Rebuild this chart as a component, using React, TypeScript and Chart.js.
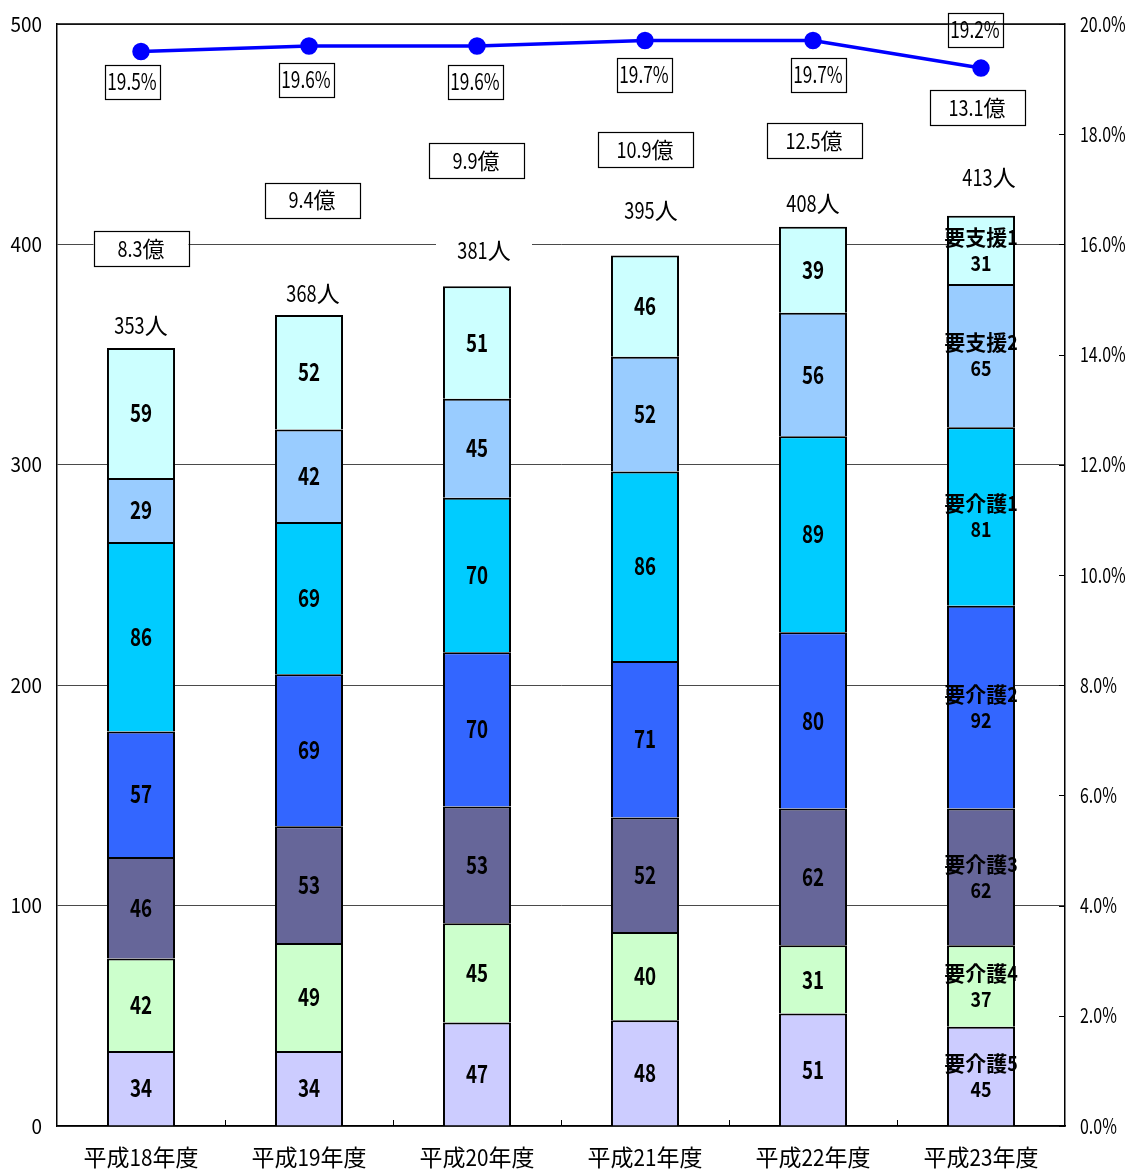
import React, { useEffect, useRef } from 'react';
import { Chart, registerables } from 'chart.js';

Chart.register(...registerables);

// ---- data ----
const categories = ['平成18年度', '平成19年度', '平成20年度', '平成21年度', '平成22年度', '平成23年度'];
const levelNames = ['要介護5', '要介護4', '要介護3', '要介護2', '要介護1', '要支援2', '要支援1'];
const kaigo5 = [34, 34, 47, 48, 51, 45];
const kaigo4 = [42, 49, 45, 40, 31, 37];
const kaigo3 = [46, 53, 53, 52, 62, 62];
const kaigo2 = [57, 69, 70, 71, 80, 92];
const kaigo1 = [86, 69, 70, 86, 89, 81];
const shien2 = [29, 42, 45, 52, 56, 65];
const shien1 = [59, 52, 51, 46, 39, 31];
const certRate = [19.5, 19.6, 19.6, 19.7, 19.7, 19.2]; // 認定率 (%)
const costOku = ['8.3', '9.4', '9.9', '10.9', '12.5', '13.1']; // 給付費 (億円)
const countTicks = [0, 100, 200, 300, 400, 500];
const rateTicks = [0, 2, 4, 6, 8, 10, 12, 14, 16, 18, 20];

const levelSeries = [kaigo5, kaigo4, kaigo3, kaigo2, kaigo1, shien2, shien1];
const totals = categories.map((_, i) => levelSeries.reduce((s, arr) => s + arr[i], 0));

// ---- styling ----
const levelColors = ['#CCCCFF', '#CCFFCC', '#666699', '#3366FF', '#00CCFF', '#99CCFF', '#CCFFFF'];
const FONT = '"Noto Sans CJK JP", "Noto Sans", sans-serif';

// label placement (pixel offsets from the mark they describe)
const rateLabelOffset = [[-9, 30], [-3, 34], [-2, 36], [-1, 34], [5, 34], [-6, -38]];
const totalLabelOffset = [[0, 22], [4, 21], [7, 36], [6, 45], [0, 23], [8, 38]];
const costLabelLevel = [398, 420, 438, 443, 447, 462]; // in 人 axis units
const costLabelDx = [0, 3, -1, 0, 1, -4];

const isWide = (ch: string) => /[\u3000-\u9fff\uff00-\uffef]/.test(ch);

function splitRuns(text: string) {
  const runs: { t: string; wide: boolean }[] = [];
  for (const ch of text) {
    const w = isWide(ch);
    const last = runs[runs.length - 1];
    if (last && last.wide === w) last.t += ch;
    else runs.push({ t: ch, wide: w });
  }
  return runs;
}

// Draws text with narrow Latin/digit runs and full-width CJK runs, vertically centred on y.
function drawText(
  ctx: CanvasRenderingContext2D,
  text: string,
  x: number,
  y: number,
  size: number,
  bold: boolean,
  align: 'left' | 'center' | 'right',
  narrow: number
) {
  ctx.save();
  ctx.font = `${bold ? 'bold ' : ''}${size}px ${FONT}`;
  ctx.textAlign = 'left';
  ctx.textBaseline = 'alphabetic';
  const parts = splitRuns(text).map((r) => ({ ...r, w: ctx.measureText(r.t).width * (r.wide ? 1 : narrow) }));
  const total = parts.reduce((s, p) => s + p.w, 0);
  let cx = align === 'center' ? x - total / 2 : align === 'right' ? x - total : x;
  const by = y + size * 0.365;
  for (const p of parts) {
    ctx.save();
    ctx.translate(cx, by);
    if (!p.wide) ctx.scale(narrow, 1);
    ctx.fillText(p.t, 0, 0);
    ctx.restore();
    cx += p.w;
  }
  ctx.restore();
  return total;
}

function boxed(ctx: CanvasRenderingContext2D, cx: number, cy: number, w: number, h: number, border: boolean) {
  ctx.save();
  ctx.fillStyle = '#FFFFFF';
  ctx.fillRect(cx - w / 2, cy - h / 2, w, h);
  if (border) {
    ctx.strokeStyle = '#000000';
    ctx.lineWidth = 1.2;
    ctx.strokeRect(Math.round(cx - w / 2) + 0.5, Math.round(cy - h / 2) + 0.5, w, h);
  }
  ctx.restore();
}

const overlayPlugin = {
  id: 'overlay',
  afterDatasetsDraw(chart: any) {
    const ctx: CanvasRenderingContext2D = chart.ctx;
    const xs = chart.scales.x;
    const ys = chart.scales.y;
    ctx.fillStyle = '#000000';

    // values inside each segment
    levelSeries.forEach((values, di) => {
      const meta = chart.getDatasetMeta(di);
      meta.data.forEach((el: any, j: number) => {
        const p = el.getProps(['x', 'y', 'base'], true);
        const cy = (p.y + p.base) / 2;
        if (j === categories.length - 1) {
          drawText(ctx, levelNames[di], p.x, cy - 13, 21, true, 'center', 0.85);
          drawText(ctx, String(values[j]), p.x, cy + 13, 21, true, 'center', 0.85);
        } else {
          drawText(ctx, String(values[j]), p.x, cy, 25, true, 'center', 0.75);
        }
      });
    });

    // totals above bars
    const topMeta = chart.getDatasetMeta(levelSeries.length - 1);
    topMeta.data.forEach((el: any, j: number) => {
      const p = el.getProps(['x', 'y'], true);
      const cx = p.x + totalLabelOffset[j][0];
      const cy = p.y - totalLabelOffset[j][1];
      boxed(ctx, cx, cy, 96, 30, false);
      drawText(ctx, `${totals[j]}人`, cx, cy, 23, false, 'center', 0.79);
    });

    // cost boxes
    costOku.forEach((c, j) => {
      const cx = xs.getPixelForValue(j) + costLabelDx[j];
      const cy = ys.getPixelForValue(costLabelLevel[j]);
      boxed(ctx, cx, cy, 95, 35, true);
      drawText(ctx, `${c}億`, cx, cy, 22, false, 'center', 0.82);
    });

    // rate boxes
    const lineMeta = chart.getDatasetMeta(levelSeries.length);
    lineMeta.data.forEach((el: any, j: number) => {
      const p = el.getProps(['x', 'y'], true);
      const cx = p.x + rateLabelOffset[j][0];
      const cy = p.y + rateLabelOffset[j][1];
      boxed(ctx, cx, cy, 55, 34, true);
      drawText(ctx, `${certRate[j].toFixed(1)}%`, cx, cy, 23, false, 'center', 0.75);
    });
  },
  afterDraw(chart: any) {
    const ctx: CanvasRenderingContext2D = chart.ctx;
    const xs = chart.scales.x;
    const ys = chart.scales.y;
    const y1 = chart.scales.y1;
    const area = chart.chartArea;
    ctx.save();
    ctx.strokeStyle = '#000000';
    ctx.lineWidth = 1.5;
    // top frame line
    ctx.beginPath();
    ctx.moveTo(area.left, area.top);
    ctx.lineTo(area.right, area.top);
    ctx.stroke();
    // category boundary ticks, pointing inward
    ctx.lineWidth = 1;
    for (let i = 0; i < categories.length - 1; i++) {
      const bx = Math.round((xs.getPixelForValue(i) + xs.getPixelForValue(i + 1)) / 2) + 0.5;
      ctx.beginPath();
      ctx.moveTo(bx, area.bottom);
      ctx.lineTo(bx, area.bottom - 6);
      ctx.stroke();
    }
    // right axis ticks, pointing inward
    rateTicks.forEach((v) => {
      const py = Math.round(y1.getPixelForValue(v)) + 0.5;
      ctx.beginPath();
      ctx.moveTo(area.right - 6, py);
      ctx.lineTo(area.right, py);
      ctx.stroke();
    });
    ctx.restore();

    ctx.fillStyle = '#000000';
    countTicks.forEach((v) => {
      drawText(ctx, String(v), 42, ys.getPixelForValue(v), 21, false, 'right', 0.9);
    });
    rateTicks.forEach((v) => {
      drawText(ctx, `${v.toFixed(1)}%`, 1080, y1.getPixelForValue(v), 21, false, 'left', 0.76);
    });
    categories.forEach((c, i) => {
      drawText(ctx, c, xs.getPixelForValue(i), 1158, 23, false, 'center', 0.9);
    });
  },
};

export default function App() {
  const canvasRef = useRef<HTMLCanvasElement | null>(null);

  useEffect(() => {
    const canvas = canvasRef.current;
    if (!canvas) return;

    const barSets = levelSeries.map((values, i) => ({
      type: 'bar' as const,
      label: levelNames[i],
      data: values,
      backgroundColor: levelColors[i],
      borderColor: '#000000',
      borderWidth: 2,
      borderSkipped: 'start',
      stack: 'levels',
      yAxisID: 'y',
      order: 2,
      categoryPercentage: 1,
      barPercentage: 0.405,
    }));

    const chart = new Chart(canvas, {
      type: 'bar',
      data: {
        labels: categories,
        datasets: [
          ...barSets,
          {
            type: 'line' as const,
            label: '認定率',
            data: certRate,
            borderColor: '#0000FF',
            backgroundColor: '#0000FF',
            borderWidth: 3.5,
            pointRadius: 7,
            pointBackgroundColor: '#0000FF',
            pointBorderColor: '#0000FF',
            tension: 0,
            yAxisID: 'y1',
            order: 1,
            clip: false,
          } as any,
        ],
      },
      options: {
        responsive: false,
        animation: false,
        events: [],
        layout: { padding: { top: 24, left: 0, right: 0, bottom: 0 } },
        plugins: {
          legend: { display: false },
          tooltip: { enabled: false },
          title: { display: false },
        },
        scales: {
          x: {
            type: 'category',
            offset: true,
            stacked: true,
            grid: { display: false, drawTicks: false },
            border: { display: true, color: '#000000', width: 1.5 },
            ticks: { display: false },
            afterFit: (scale: any) => {
              scale.height = 45;
            },
          },
          y: {
            type: 'linear',
            position: 'left',
            stacked: true,
            min: 0,
            max: 500,
            grid: { color: '#4a4a4a', lineWidth: 1, drawTicks: false },
            border: { display: true, color: '#000000', width: 1.5 },
            ticks: { display: false, stepSize: 100 },
            afterFit: (scale: any) => {
              scale.width = 57;
            },
          },
          y1: {
            type: 'linear',
            position: 'right',
            min: 0,
            max: 20,
            grid: { display: false, drawTicks: false },
            border: { display: true, color: '#000000', width: 1.5 },
            ticks: { display: false, stepSize: 2 },
            afterFit: (scale: any) => {
              scale.width = 64;
            },
          },
        },
      } as any,
      plugins: [overlayPlugin],
    });

    return () => chart.destroy();
  }, []);

  return (
    <div style={{ position: 'absolute', left: 0, top: 0, width: 1129, height: 1171, background: '#FFFFFF' }}>
      <canvas ref={canvasRef} width={1129} height={1171} style={{ display: 'block' }} />
    </div>
  );
}
